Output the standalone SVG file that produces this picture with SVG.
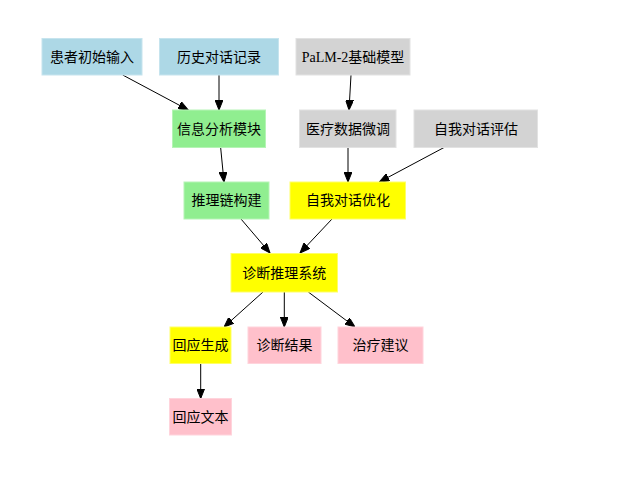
<svg xmlns="http://www.w3.org/2000/svg" width="629" height="496" viewBox="0 0 629 496">
<defs>
<marker id="ah" markerWidth="10" markerHeight="8" refX="10" refY="4" orient="auto" markerUnits="userSpaceOnUse">
<path d="M0,0 L10,4 L0,8 Z" fill="#000" stroke="#000" stroke-width="1"/>
</marker>
<style>
.n rect{stroke-width:1}
.blue rect{fill:#add8e6;stroke:#c6e4ee}
.gray rect{fill:#d3d3d3;stroke:#e2e2e2}
.green rect{fill:#90ee90;stroke:#b5f4b5}
.yellow rect{fill:#ffff00;stroke:#ffff66}
.pink rect{fill:#ffc0cb;stroke:#ffd4dc}
.n text{font-family:"Liberation Serif","Noto Sans CJK SC",serif;font-size:14px;fill:#000;text-anchor:middle;dominant-baseline:central}
#edges path{fill:none;stroke:#000;stroke-width:1;marker-end:url(#ah)}
</style>
</defs>
<rect width="629" height="496" fill="#fff"/>
<g id="edges">
<path d="M122.7,75 L188.3,110"/>
<path d="M219,75 L219,110"/>
<path d="M351,75 L349,110"/>
<path d="M220.7,148 L224,182"/>
<path d="M348,148 L348,182"/>
<path d="M444,147.5 L379.3,182"/>
<path d="M241,219 L270,253"/>
<path d="M332,219 L300,253"/>
<path d="M263,292 L224,327"/>
<path d="M284.3,292 L284.3,327"/>
<path d="M308.3,292 L355,327"/>
<path d="M200.7,363.5 L200.7,398.5"/>
</g>
<g id="n1" class="n blue"><rect x="42" y="38.5" width="100" height="36.5"/><text x="92" y="57">患者初始输入</text></g>
<g id="n2" class="n blue"><rect x="159.5" y="38.5" width="119" height="36.5"/><text x="219" y="57">历史对话记录</text></g>
<g id="n3" class="n gray"><rect x="296" y="38.5" width="114" height="36.5"/><text x="353" y="57">PaLM-2基础模型</text></g>
<g id="n4" class="n green"><rect x="172.5" y="110" width="93" height="37.5"/><text x="219" y="129">信息分析模块</text></g>
<g id="n5" class="n gray"><rect x="299.5" y="110" width="96.5" height="37.5"/><text x="348" y="129">医疗数据微调</text></g>
<g id="n6" class="n gray"><rect x="414" y="110" width="123.5" height="37.5"/><text x="476" y="129">自我对话评估</text></g>
<g id="n7" class="n green"><rect x="184" y="182" width="85" height="37"/><text x="226.5" y="200.5">推理链构建</text></g>
<g id="n8" class="n yellow"><rect x="290" y="182" width="115.5" height="37"/><text x="348" y="200.5">自我对话优化</text></g>
<g id="n9" class="n yellow"><rect x="231" y="253.5" width="106.5" height="38.5"/><text x="284.3" y="273">诊断推理系统</text></g>
<g id="n10" class="n yellow"><rect x="170" y="327" width="61" height="36.5"/><text x="200.5" y="345">回应生成</text></g>
<g id="n11" class="n pink"><rect x="248" y="327" width="73" height="36.5"/><text x="284.5" y="345">诊断结果</text></g>
<g id="n12" class="n pink"><rect x="338" y="327" width="85" height="36.5"/><text x="380.5" y="345">治疗建议</text></g>
<g id="n13" class="n pink"><rect x="169.5" y="398.5" width="62" height="36.5"/><text x="200.5" y="417">回应文本</text></g>
</svg>
